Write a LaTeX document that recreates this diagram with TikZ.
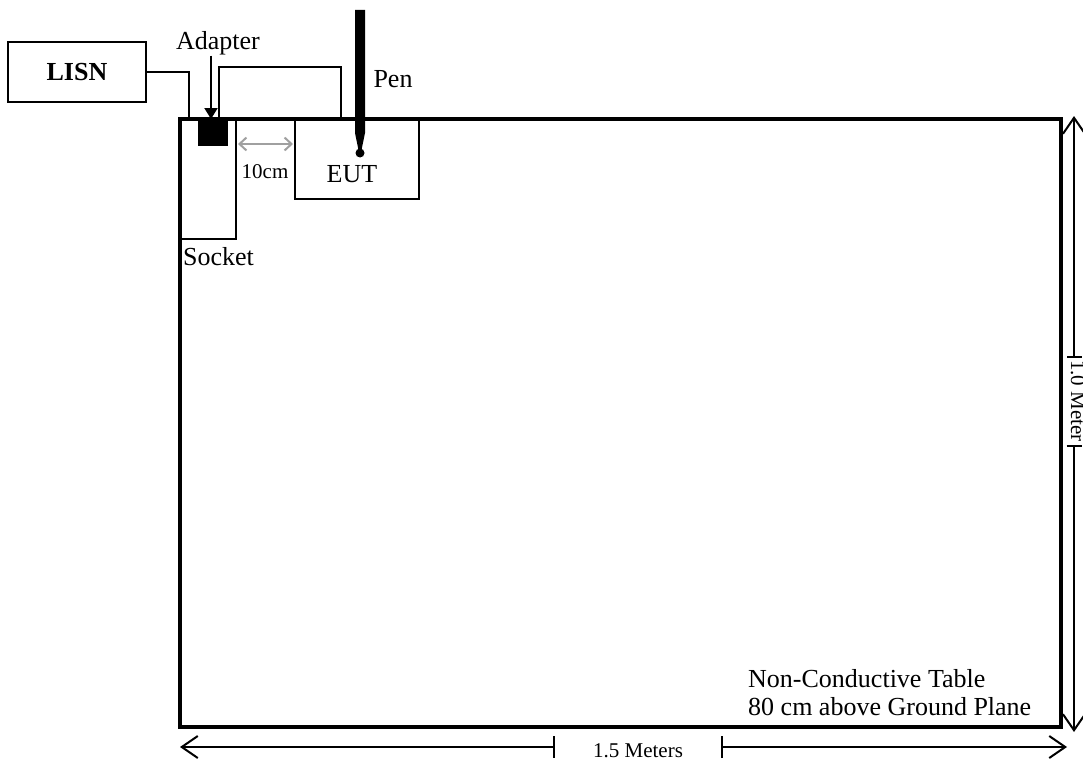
\documentclass[tikz,border=0pt]{standalone}
\usepackage{fontspec}
\setmainfont{Liberation Serif}
\usetikzlibrary{arrows.meta,positioning,calc}
\definecolor{xGap}{RGB}{160,160,160}
\newcommand{\mainsize}{\fontsize{26}{28}\selectfont}
\newcommand{\dimsize}{\fontsize{21}{24}\selectfont}
\tikzset{
  boxed/.style={draw=black, line width=2pt, inner sep=0pt, outer sep=0pt},
  wire/.style={line width=2pt},
  txt/.style={font=\mainsize, inner sep=0pt},
  dimtxt/.style={font=\dimsize, inner sep=0pt},
  dimline/.style={line width=2pt},
  barb/.tip={Straight Barb[length=16pt,width=22pt]}
}

\begin{document}
\begin{tikzpicture}[x=1pt,y=-1pt]
    \useasboundingbox (0,0) rectangle (1083,760);

    % table corners
    \coordinate (tNW) at (180,119);
    \coordinate (tSE) at (1061,727);

    % boxes on and beside the table
    \node[boxed, minimum width=138, minimum height=60, font=\mainsize\bfseries] (lisn) at (77,72) {LISN};
    \node[boxed, anchor=north west, minimum width=56, minimum height=120] (socket) at (tNW) {};
    \node[boxed, anchor=north west, minimum width=124, minimum height=80] (eut) at (295,119) {};
    \node[fill=black, anchor=north west, minimum width=30, minimum height=25, inner sep=0pt] (adapter) at (198,121) {};

    \draw[line width=4pt] (tNW) rectangle (tSE);

    % cables
    \coordinate (lisnplug) at (189,119);
    \coordinate (adpout) at (219,119);
    \coordinate (eutin) at (341,119);
    \draw[wire] (lisn.east) -| (lisnplug);
    \draw[wire] (adpout) -- ++(0,-52) -| (eutin);

    % labels
    \node[txt, anchor=base] (adapterlbl) at (218,50) {Adapter};
    \coordinate (adptip) at (211,119);
    \draw[wire, -{Triangle[length=11pt,width=13pt]}] (adptip |- adapterlbl.south) -- (adptip);
    \node[txt, anchor=base] (euttxt) at (352,182) {EUT};
    \node[txt, anchor=base west] (sockettxt) at (183,265) {Socket};
    \node[txt, anchor=base] (penlbl) at (393,87) {Pen};

    % pen
    \fill (355,10) -- (365,10) -- (365,133) -- (361.5,150) -- (358.5,150) -- (355,133) -- cycle;
    \fill (360,153) circle (4.5);

    % 10cm spacing
    \coordinate (gapL) at (238,144);
    \coordinate (gapR) at (293,144);
    \draw[xGap, line width=2pt, {Straight Barb[length=7pt,width=13pt]}-{Straight Barb[length=7pt,width=13pt]}] (gapL) -- (gapR);
    \node[dimtxt, anchor=base] (gaptxt) at (265,178) {10cm};

    % table note
    \node[txt, anchor=south west, align=left] (note) at (748,716) {Non-Conductive Table\\80 cm above Ground Plane};

    % dimensions
    \coordinate (hL) at (180,747);
    \coordinate (hT1) at (555,747);
    \coordinate (hT2) at (721,747);
    \coordinate (hR) at (1067,747);
    \draw[dimline, {barb}-{Bar[width=22pt]}] (hL) -- (hT1);
    \draw[dimline, {Bar[width=22pt]}-{barb}] (hT2) -- (hR);
    \node[dimtxt, anchor=base] (hlen) at (638,757) {1.5 Meters};

    \coordinate (vT) at (1074,116);
    \coordinate (vG1) at (1074,358);
    \coordinate (vG2) at (1074,445);
    \coordinate (vB) at (1074,732);
    \draw[dimline, {barb}-{Bar[width=15pt]}] (vT) -- (vG1);
    \draw[dimline, {Bar[width=15pt]}-{barb}] (vG2) -- (vB);
    \node[dimtxt, anchor=base, rotate=-90] (vlen) at (1071,401) {1.0 Meter};
\end{tikzpicture}
\end{document}
